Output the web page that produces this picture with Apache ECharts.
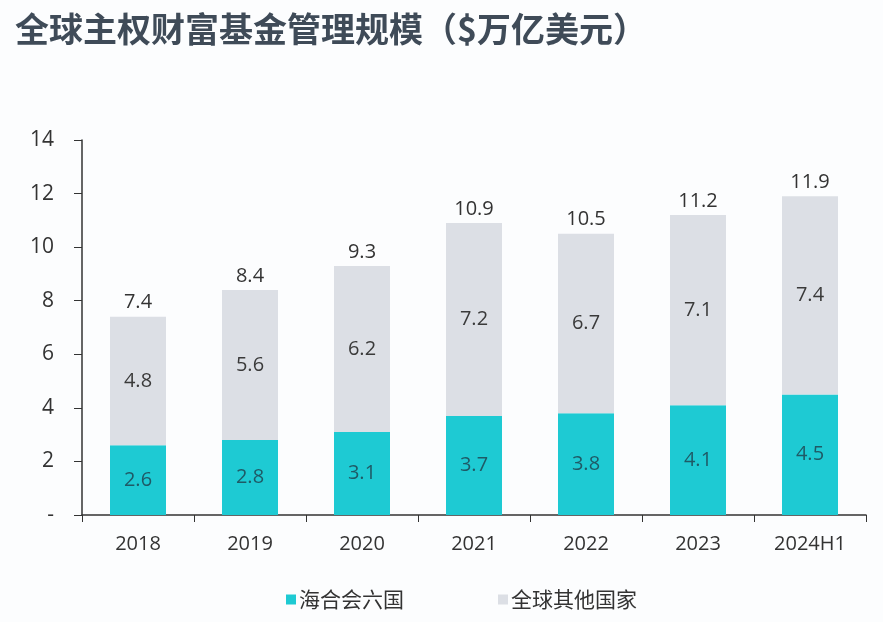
<!DOCTYPE html>
<html><head><meta charset="utf-8">
<script src="https://cdn.jsdelivr.net/npm/echarts@6/dist/echarts.min.js"></script>
<style>html,body{margin:0;padding:0;background:#fcfdfe}#c{width:883px;height:622px}</style>
</head><body><div id="c"></div>
<script>
const categories = ['2018','2019','2020','2021','2022','2023','2024H1'];
const gccValues = [2.6, 2.8, 3.1, 3.7, 3.8, 4.1, 4.5];
const otherValues = [4.8, 5.6, 6.2, 7.2, 6.7, 7.1, 7.4];
const totalValues = [7.4, 8.4, 9.3, 10.9, 10.5, 11.2, 11.9];
const yTicks = [0, 2, 4, 6, 8, 10, 12, 14];

const chart = echarts.init(document.getElementById('c'));
const font = '"Open Sans","Noto Sans CJK SC",sans-serif';
chart.setOption({
  backgroundColor: '#fcfdfe',
  animation: false,
  title: {
    text: '全球主权财富基金管理规模（$万亿美元）',
    left: 10, top: 7,
    textStyle: { fontSize: 34, fontWeight: 'bold', color: '#3f4b58', fontFamily: '"Noto Sans CJK SC",sans-serif' }
  },
  legend: {
    data: ['海合会六国', '全球其他国家'],
    left: 281, top: 584,
    itemWidth: 10, itemHeight: 10, itemGap: 94,
    icon: 'rect',
    textStyle: { fontSize: 21, color: '#333', fontFamily: '"Noto Sans CJK SC",sans-serif', padding: [0,0,0,-2] }
  },
  grid: { left: 82, right: 17, top: 140, bottom: 107, containLabel: false },
  xAxis: {
    type: 'category', data: categories,
    axisLine: { lineStyle: { color: '#333', width: 1.5 } },
    axisTick: { show: true, length: 7, lineStyle: { color: '#333' } },
    axisLabel: { fontSize: 20, color: '#333', margin: 19, fontFamily: font }
  },
  yAxis: {
    type: 'value', min: 0, max: 14, interval: 2,
    splitLine: { show: false },
    axisLine: { show: true, lineStyle: { color: '#333', width: 1.5 } },
    axisTick: { show: true, length: 8, lineStyle: { color: '#333' } },
    axisLabel: { fontSize: 21, color: '#333', margin: 28, fontFamily: font,
      formatter: v => (yTicks.indexOf(v) >= 0 ? (v === 0 ? '-' : String(v)) : '') }
  },
  series: [
    {
      name: '海合会六国', type: 'bar', stack: 's', barWidth: '50%',
      data: gccValues,
      itemStyle: { color: '#1ecad3' },
      label: { show: true, position: 'inside', fontSize: 20, color: '#1f5a66', fontFamily: font,
        formatter: p => p.value.toFixed(1) }
    },
    {
      name: '全球其他国家', type: 'bar', stack: 's', barWidth: '50%',
      data: otherValues,
      itemStyle: { color: '#dcdfe5' },
      label: { show: true, position: 'inside', fontSize: 20, color: '#3a3a3a', fontFamily: font,
        formatter: p => p.value.toFixed(1) }
    },
    {
      name: 'total', type: 'bar', stack: 's', barWidth: '50%',
      data: totalValues.map(() => 0),
      itemStyle: { color: 'transparent' },
      label: { show: true, position: 'top', distance: 4, fontSize: 20, color: '#333', fontFamily: font,
        formatter: p => totalValues[p.dataIndex].toFixed(1) },
      silent: true
    }
  ]
});
</script></body></html>
